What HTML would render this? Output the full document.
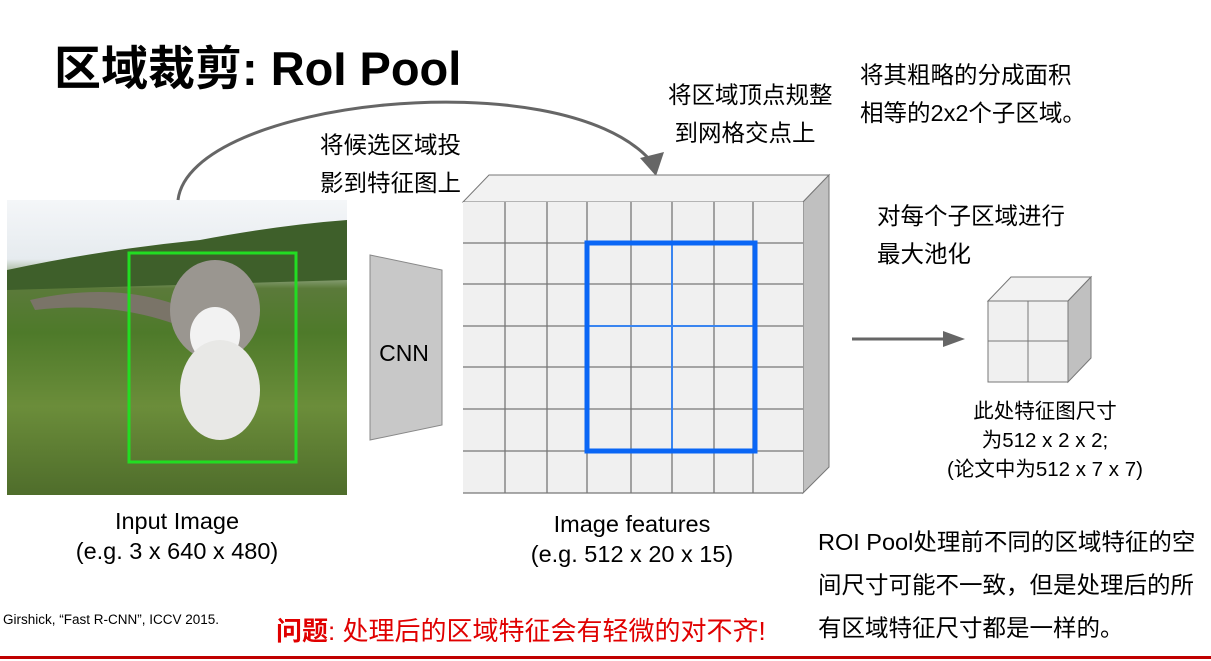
<!DOCTYPE html>
<html><head><meta charset="utf-8"><style>
body{margin:0;width:1211px;height:661px;background:#fff;position:relative;overflow:hidden;font-family:"Liberation Sans","Noto Sans CJK SC",sans-serif;}
.t{position:absolute;white-space:nowrap;color:#000;}
</style></head><body>
<div class="t" style="left:54px;top:30px;font-size:47px;font-weight:bold;">区域裁剪: RoI Pool</div>
<div class="t" style="left:320px;top:126px;font-size:23.5px;line-height:38px;">将候选区域投<br>影到特征图上</div>
<div class="t" style="left:668px;top:76px;font-size:23.5px;line-height:38px;">将区域顶点规整<br>&nbsp;到网格交点上</div>
<div class="t" style="left:860px;top:56px;font-size:23.5px;line-height:38px;">将其粗略的分成面积<br>相等的2x2个子区域。</div>
<div class="t" style="left:877px;top:197px;font-size:23.5px;line-height:38px;">对每个子区域进行<br>最大池化</div>
<div class="t" style="left:930px;top:397px;font-size:20.5px;line-height:29px;text-align:center;width:230px;">此处特征图尺寸<br>为512 x 2 x 2;<br>(论文中为512 x 7 x 7)</div>
<div class="t" style="left:40px;top:506px;font-size:23.5px;line-height:30px;text-align:center;width:274px;">Input Image<br>(e.g. 3 x 640 x 480)</div>
<div class="t" style="left:495px;top:509px;font-size:23.5px;line-height:30px;text-align:center;width:274px;">Image features<br>(e.g. 512 x 20 x 15)</div>
<div class="t" style="left:818px;top:521px;font-size:23.5px;line-height:43px;">ROI Pool处理前不同的区域特征的空<br>间尺寸可能不一致，但是处理后的所<br>有区域特征尺寸都是一样的。</div>
<div class="t" style="left:3px;top:612px;font-size:13.5px;">Girshick, “Fast R-CNN”, ICCV 2015.</div>
<div class="t" style="left:276px;top:611px;font-size:26px;color:#e00000;"><b>问题</b>: 处理后的区域特征会有轻微的对不齐!</div>
<div style="position:absolute;left:0;top:656px;width:1211px;height:3px;background:#c00000"></div>
<svg width="1211" height="661" style="position:absolute;left:0;top:0">
<defs>
<linearGradient id="sky" x1="0" y1="0" x2="0" y2="1">
<stop offset="0" stop-color="#f4f6f8"/><stop offset="0.2" stop-color="#e6ebef"/><stop offset="0.3" stop-color="#5b7a3a"/><stop offset="0.45" stop-color="#4e7a2a"/><stop offset="0.7" stop-color="#6b8d3a"/><stop offset="1" stop-color="#4f6d2b"/>
</linearGradient>
</defs>
<rect x="7" y="200" width="340" height="295" fill="url(#sky)"/>
<path d="M7 270 Q100 250 200 240 Q280 225 347 220 L347 280 L7 290Z" fill="#3e5f2a"/>
<path d="M30 300 Q120 280 190 310 L190 330 Q120 300 35 310Z" fill="#7a7468"/>
<ellipse cx="215" cy="310" rx="45" ry="50" fill="#9a9690"/>
<ellipse cx="215" cy="335" rx="25" ry="28" fill="#f2f2f2"/>
<ellipse cx="220" cy="390" rx="40" ry="50" fill="#e8e8e6"/>
<rect x="129" y="253" width="167" height="209" fill="none" stroke="#22dd22" stroke-width="3"/>
<path d="M178 200 C190 100 560 60 650 160" fill="none" stroke="#666" stroke-width="3"/>
<polygon points="640,158 664,152 656,176" fill="#666"/>
<polygon points="370,255 442,270 442,425 370,440" fill="#c8c8c8" stroke="#888" stroke-width="1"/>
<text x="404" y="361" font-size="23" text-anchor="middle" font-family="Liberation Sans">CNN</text>
<polygon points="463,202 489,175 829,175 803,202" fill="#f2f2f2" stroke="#777"/>
<polygon points="803,202 829,175 829,467 803,493" fill="#c0c0c0" stroke="#777"/>
<rect x="463" y="202" width="340" height="291" fill="#f0f0f0"/>
<g stroke="#777" stroke-width="1.3">
<line x1="505" y1="202" x2="505" y2="493"/><line x1="547" y1="202" x2="547" y2="493"/><line x1="587" y1="202" x2="587" y2="493"/><line x1="631" y1="202" x2="631" y2="493"/><line x1="672" y1="202" x2="672" y2="493"/><line x1="714" y1="202" x2="714" y2="493"/><line x1="753" y1="202" x2="753" y2="493"/>
<line x1="463" y1="243" x2="803" y2="243"/><line x1="463" y1="284" x2="803" y2="284"/><line x1="463" y1="326" x2="803" y2="326"/><line x1="463" y1="367" x2="803" y2="367"/><line x1="463" y1="409" x2="803" y2="409"/><line x1="463" y1="451" x2="803" y2="451"/>
<line x1="463" y1="493" x2="803" y2="493"/>
</g>
<line x1="672" y1="243" x2="672" y2="451" stroke="#3a85f0" stroke-width="2"/>
<line x1="587" y1="326" x2="755" y2="326" stroke="#3a85f0" stroke-width="2"/>
<rect x="587" y="243" width="168" height="208" fill="none" stroke="#0a66f5" stroke-width="5"/>
<line x1="852" y1="339" x2="945" y2="339" stroke="#666" stroke-width="3"/>
<polygon points="943,331 965,339 943,347" fill="#666"/>
<polygon points="988,301 1011,277 1091,277 1068,301" fill="#f2f2f2" stroke="#777"/>
<polygon points="1068,301 1091,277 1091,358 1068,382" fill="#c0c0c0" stroke="#777"/>
<rect x="988" y="301" width="80" height="81" fill="#f0f0f0" stroke="#777"/>
<line x1="1028" y1="301" x2="1028" y2="382" stroke="#777"/>
<line x1="988" y1="341" x2="1068" y2="341" stroke="#777"/>
</svg>
</body></html>
